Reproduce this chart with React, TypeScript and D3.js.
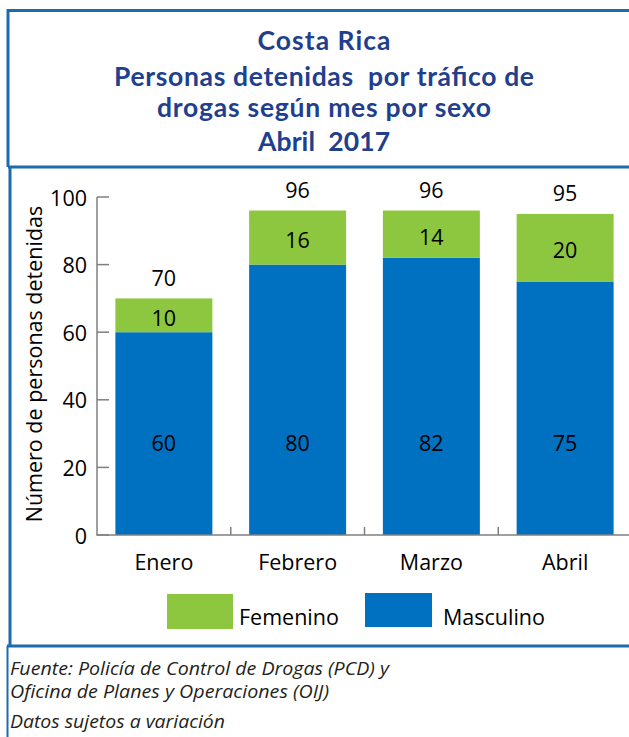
import * as d3 from "d3";

const months = ["Enero", "Febrero", "Marzo", "Abril"];
const masculino = [60, 80, 82, 75];
const femenino = [10, 16, 14, 20];
const totales = [70, 96, 96, 95];
const yTicks = [0, 20, 40, 60, 80, 100];

const titleLines = [
  "Costa Rica",
  "Personas detenidas  por tráfico de",
  "drogas según mes por sexo",
  "Abril  2017",
];
const footerLines = [
  "Fuente: Policía de Control de Drogas (PCD) y",
  "Oficina de Planes y Operaciones (OIJ)",
  "Datos sujetos a variación",
];

const W = 629;
const H = 737;
const BLUE = "#0070c0";
const GREEN = "#8dc63f";
const BORDER = "#1d6aae";
const TITLE = "#213f8d";
const AXIS = "#7f7f7f";
const FONT = "'Open Sans', 'Noto Sans', sans-serif";

// rough widths of the text lines, so the fallback faces stretch like the original
const titleW = [133, 420, 334, 132];
const titleY = [40, 76, 107, 141];
const footerW = [379, 319, 215];
const footerY = [668, 691, 721];

const App = () => {
  const x = d3
    .scaleBand<string>()
    .domain(months)
    .range([97, 632])
    .paddingInner(0.275)
    .paddingOuter(0.1375);

  const y = d3.scaleLinear().domain([0, 100]).range([535, 197]);

  const step = x.step();
  const bw = x.bandwidth();
  // category separators on the x axis
  const seps = months.slice(1).map((m) => (x(m) as number) - (step - bw) / 2);

  return (
    <svg
      width={W}
      height={H}
      style={{ position: "absolute", left: 0, top: 0, background: "#fff" }}
    >
      {/* borders */}
      <line x1={8} y1={10.5} x2={W} y2={10.5} stroke={BORDER} strokeWidth={3} />
      <line x1={8} y1={9} x2={8} y2={167} stroke={BORDER} strokeWidth={3} />
      <line x1={8} y1={167} x2={W} y2={167} stroke={BORDER} strokeWidth={3} />
      <line x1={10} y1={167} x2={10} y2={646} stroke={BORDER} strokeWidth={3} />
      <line x1={7} y1={646} x2={W} y2={646} stroke={BORDER} strokeWidth={3} />
      <line x1={7.5} y1={646} x2={7.5} y2={H} stroke={BORDER} strokeWidth={2} />

      {/* title */}
      <g fill={TITLE} fontFamily="Lato, sans-serif" fontWeight={700} fontSize={26.5} textAnchor="middle">
        {titleLines.map((t, i) => (
          <text
            key={i}
            x={324}
            y={titleY[i]}
            dominantBaseline="central"
            textLength={titleW[i]}
            lengthAdjust="spacing"
            style={{ whiteSpace: "pre" }}
          >
            {t}
          </text>
        ))}
      </g>

      {/* bars */}
      {months.map((m, i) => (
        <g key={m}>
          <rect
            x={x(m)}
            y={y(masculino[i])}
            width={bw}
            height={y(0) - y(masculino[i])}
            fill={BLUE}
          />
          <rect
            x={x(m)}
            y={y(totales[i])}
            width={bw}
            height={y(masculino[i]) - y(totales[i])}
            fill={GREEN}
          />
        </g>
      ))}

      {/* axes */}
      <g stroke={AXIS} strokeWidth={1.5}>
        <line x1={97} y1={y(100)} x2={97} y2={y(0)} />
        <line x1={96.25} y1={y(0)} x2={W} y2={y(0)} />
        {yTicks.map((t) => (
          <line key={t} x1={97} x2={109} y1={y(t)} y2={y(t)} />
        ))}
        {seps.map((s, i) => (
          <line key={i} x1={s} x2={s} y1={y(0)} y2={y(0) - 8} />
        ))}
      </g>

      <g fontFamily={FONT} fontSize={21.5} fill="#000">
        {yTicks.map((t) => (
          <text key={t} x={87} y={y(t)} textAnchor="end" dominantBaseline="central">
            {t}
          </text>
        ))}
        {months.map((m) => (
          <text key={m} x={(x(m) as number) + bw / 2} y={561} textAnchor="middle" dominantBaseline="central">
            {m}
          </text>
        ))}
        <text
          transform={`translate(33, ${y(50) - 2}) rotate(-90)`}
          textAnchor="middle"
          dominantBaseline="central"
        >
          Número de personas detenidas
        </text>

        {months.map((m, i) => {
          const cx = (x(m) as number) + bw / 2;
          return (
            <g key={m} textAnchor="middle" dominantBaseline="central">
              <text x={cx} y={y(totales[i]) - 21}>{totales[i]}</text>
              <text x={cx} y={(y(masculino[i]) + y(totales[i])) / 2 + 2}>{femenino[i]}</text>
              <text x={cx} y={y(27.5)}>{masculino[i]}</text>
            </g>
          );
        })}

        {/* legend */}
        <rect x={167} y={594} width={66} height={35} fill={GREEN} />
        <text x={239} y={616} dominantBaseline="central">Femenino</text>
        <rect x={365} y={593} width={67} height={34} fill={BLUE} />
        <text x={443} y={616} dominantBaseline="central">Masculino</text>
      </g>

      {/* footer */}
      <g fontFamily={FONT} fontStyle="italic" fontSize={17.5} fill="#231f20">
        {footerLines.map((t, i) => (
          <text
            key={i}
            x={10}
            y={footerY[i]}
            dominantBaseline="central"
            textLength={footerW[i]}
            lengthAdjust="spacingAndGlyphs"
          >
            {t}
          </text>
        ))}
      </g>
    </svg>
  );
};

export default App;
